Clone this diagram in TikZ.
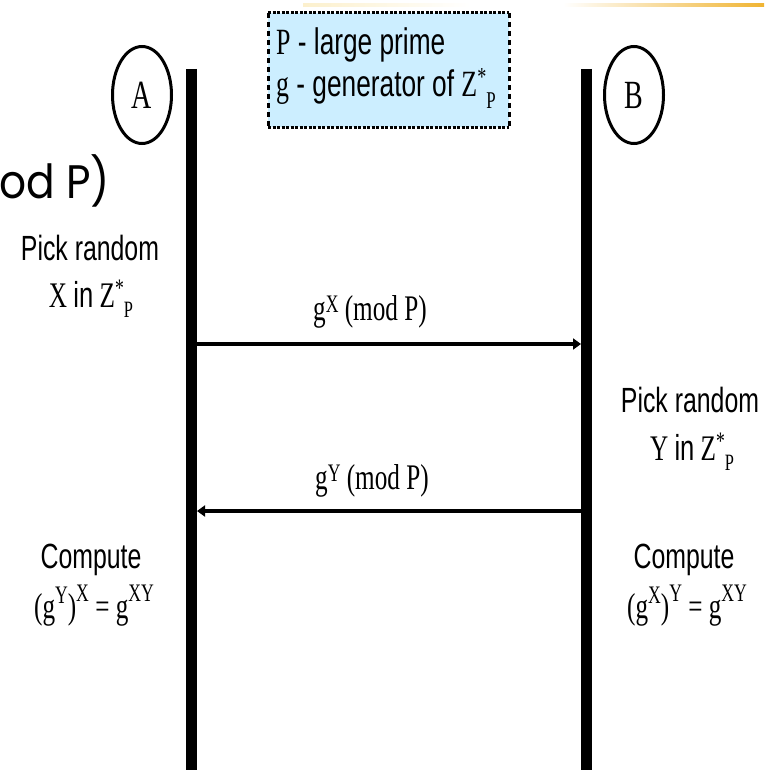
\documentclass[tikz,border=0pt]{standalone}
\usepackage{fontspec}
\usepackage{graphicx}
\setmainfont{Liberation Serif}[FakeStretch=0.70]
\newfontfamily\nsans{Liberation Sans}[FakeStretch=0.71]
\newfontfamily\rnd{Poppins}[FakeStretch=0.9]
\usetikzlibrary{arrows.meta,shapes.geometric}
\definecolor{boxblue}{RGB}{204,238,255}
\definecolor{decogold}{RGB}{242,205,100}
\definecolor{decoorange}{RGB}{240,180,50}
\definecolor{decolight}{RGB}{252,240,205}
\newcommand\myup[2][0.25em]{\raisebox{#1}{\scalebox{0.7}{#2}}}
\newcommand\mydn[1]{\raisebox{-0.3em}{\scalebox{0.65}{#1}}}
\tikzset{
  life/.style={line width=11pt},
  msg/.style={line width=3.5pt,-{Triangle[length=8pt,width=11pt]}},
  party/.style={draw,line width=3pt,ellipse,minimum width=59pt,minimum height=97pt,inner sep=0pt,font=\rmfamily\fontsize{40}{42}\selectfont},
  sanslbl/.style={inner sep=0pt,anchor=base,font=\nsans\fontsize{35}{38}\selectfont},
  serlbl/.style={inner sep=0pt,anchor=base,font=\rmfamily\fontsize{36}{38}\selectfont},
  boxlbl/.style={inner sep=0pt,anchor=base west,font=\nsans\fontsize{37}{40}\selectfont},
  infobox/.style={fill=boxblue,draw=none,inner sep=0pt,anchor=north west,minimum width=241pt,minimum height=114pt},
  hdash/.style={line width=3pt,dash pattern=on 3pt off 1.5pt},
  vdash/.style={line width=3pt,dash pattern=on 5pt off 4pt},
}
\begin{document}
\begin{tikzpicture}[x=1pt,y=-1pt]
\useasboundingbox (0,0) rectangle (764,770);
\clip (0,0) rectangle (764,770);
% top decoration
\shade[left color=decolight,middle color=decogold,right color=white] (303,3.5) rectangle (470,6.5);
\shade[left color=white,middle color=decogold,right color=decoorange] (563,3.5) rectangle (764,6.5);
% info box
\node[infobox] (info) at (268,13) {};
\draw[hdash] (info.north west) -- (info.north east);
\draw[hdash] (info.south west) -- (info.south east);
\draw[vdash] (info.north west) -- (info.south west);
\draw[vdash] (info.north east) -- (info.south east);
\node[boxlbl] (p1) at (276,55) {{\rmfamily P} - large prime};
\node[boxlbl] (p2) at (276,97) {{\rmfamily g} - generator of {\rmfamily Z\myup[0.3em]{*}\mydn{P}}};
% parties
\node[party] (A) at (142,95) {A};
\node[party] (B) at (634,95) {B};
% lifelines
\coordinate (Atop) at (191.5,69);
\coordinate (Abot) at (191.5,770);
\coordinate (Btop) at (586.5,69);
\coordinate (Bbot) at (586.5,770);
\draw[life] (Atop) -- (Abot);
\draw[life] (Btop) -- (Bbot);
% cut-off title text
\node[inner sep=0pt,anchor=base east,font=\rnd\fontsize{47}{50}\selectfont] (title) at (110,198) {od P)};
% A side
\node[sanslbl] (pa1) at (90,260) {Pick random};
\node[serlbl] (pa2) at (91,307) {X {\nsans in} Z\myup[0.3em]{*}\mydn{P}};
% messages
\coordinate (m1s) at (197,344);
\coordinate (m1e) at (581,344);
\coordinate (m2s) at (581,511);
\coordinate (m2e) at (197,511);
\draw[msg] (m1s) -- (m1e);
\draw[msg] (m2s) -- (m2e);
\node[serlbl,anchor=base west] (l1) at (313,320) {g\myup[0.2em]{X} (mod P)};
\node[serlbl,anchor=base west] (l2) at (315,489) {g\myup[0.2em]{Y} (mod P)};
% B side
\node[sanslbl] (pb1) at (690,412) {Pick random};
\node[serlbl] (pb2) at (692,460) {Y {\nsans in} Z\myup[0.3em]{*}\mydn{P}};
% compute
\node[sanslbl] (ca1) at (91,568) {Compute};
\node[serlbl] (ca2) at (94,618) {(g\myup[0.4em]{Y})\myup[0.45em]{X} = g\myup[0.45em]{XY}};
\node[sanslbl] (cb1) at (684,568) {Compute};
\node[serlbl] (cb2) at (687,618) {(g\myup[0.4em]{X})\myup[0.45em]{Y} = g\myup[0.45em]{XY}};
\end{tikzpicture}
\end{document}
